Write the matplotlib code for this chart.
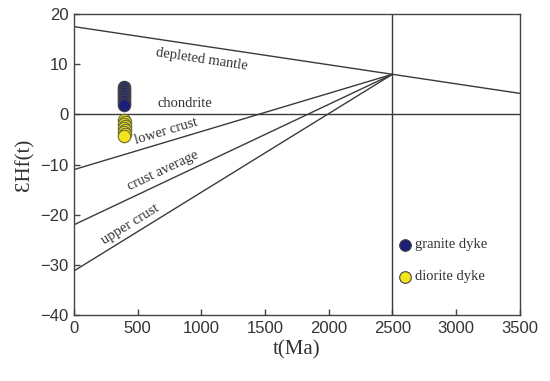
import matplotlib
matplotlib.use("Agg")
import matplotlib.pyplot as plt
import numpy as np

# Reference evolution lines (t in Ma, eHf)
dm_t = [0, 3500]
dm_e = [17.5, 4.2]
chon_t = [0, 3500]
chon_e = [0, 0]
lc_t = [0, 2500]
lc_e = [-11, 8]
ca_t = [0, 2500]
ca_e = [-22, 8]
uc_t = [0, 2500]
uc_e = [-31.2, 8]

# Samples
granite_t = [390, 390, 390, 390, 390, 390, 390, 390, 390, 390]
granite_e = [5.5, 5.1, 4.7, 4.3, 3.9, 3.5, 3.1, 2.7, 2.3, 1.9]
diorite_t = [395, 400, 392, 398, 395, 400, 393, 397, 395]
diorite_e = [-1.2, -1.6, -2.0, -2.4, -2.8, -3.2, -3.6, -4.0, -4.3]

xticks = [0, 500, 1000, 1500, 2000, 2500, 3000, 3500]
yticks = [-40, -30, -20, -10, 0, 10, 20]

serif = "Liberation Serif"
sans = "Liberation Sans"
gray = "#333333"

fig = plt.figure(figsize=(5.5, 3.81), dpi=100)
ax = fig.add_axes([0.1345, 0.173, 0.8105, 0.79])
ax.set_xlim(0, 3500)
ax.set_ylim(-40, 20)

lc = "#3a3a3a"
lw = 1.0
ax.plot(dm_t, dm_e, color=lc, lw=lw)
ax.plot(chon_t, chon_e, color=lc, lw=lw)
ax.plot(lc_t, lc_e, color=lc, lw=lw)
ax.plot(ca_t, ca_e, color=lc, lw=lw)
ax.plot(uc_t, uc_e, color=lc, lw=lw)
ax.axvline(2500, color=lc, lw=lw)

ax.scatter(granite_t, granite_e, s=80, c="#1c1f78", edgecolors="#444444", linewidths=0.8, zorder=3)
ax.scatter(diorite_t, diorite_e, s=80, c="#f3e51c", edgecolors="#6a6a3a", linewidths=0.8, zorder=3)

def label(text, x, y, t0, e0, t1, e1):
    p0 = ax.transData.transform((t0, e0))
    p1 = ax.transData.transform((t1, e1))
    ang = np.degrees(np.arctan2(p1[1] - p0[1], p1[0] - p0[0]))
    ax.text(x, y, text, rotation=ang, rotation_mode="anchor", ha="center", va="center",
            family=serif, fontsize=10.5, color=gray)

label("depleted mantle", 1000, 11.0, dm_t[0], dm_e[0], dm_t[1], dm_e[1])
label("chondrite", 870, 2.2, 0, 0, 1, 0)
label("lower crust", 720, -3.4, lc_t[0], lc_e[0], lc_t[1], lc_e[1])
label("crust average", 700, -11.3, ca_t[0], ca_e[0], ca_t[1], ca_e[1])
label("upper crust", 440, -22.0, uc_t[0], uc_e[0], uc_t[1], uc_e[1])

# legend
ax.scatter([2600], [-26], s=70, c="#1c1f78", edgecolors="#444444", linewidths=0.8)
ax.text(2680, -26, "granite dyke", va="center", ha="left", family=serif, fontsize=10.5, color=gray)
ax.scatter([2600], [-32.4], s=70, c="#f3e51c", edgecolors="#444444", linewidths=0.8)
ax.text(2680, -32.4, "diorite dyke", va="center", ha="left", family=serif, fontsize=10.5, color=gray)

ax.set_xticks(xticks)
ax.set_yticks(yticks)
ax.set_yticklabels(["\u221240", "\u221230", "\u221220", "\u221210", "0", "10", "20"])
ax.tick_params(direction="in", length=4, width=1, colors="#444444", labelsize=12, pad=4)
for lab in ax.get_xticklabels() + ax.get_yticklabels():
    lab.set_family(sans)
    lab.set_color(gray)
for s in ax.spines.values():
    s.set_color("#444444")
    s.set_linewidth(1.0)

ax.set_xlabel("t(Ma)", family=serif, fontsize=15, color=gray, labelpad=3)
ax.set_ylabel("\u0190Hf(t)", family=serif, fontsize=15, color=gray, labelpad=4)

fig.savefig("out.png", dpi=100)
